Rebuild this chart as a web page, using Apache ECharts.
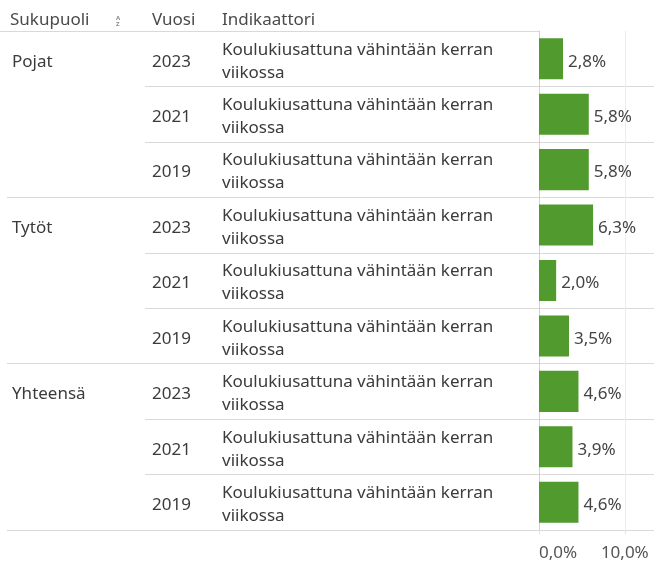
<!DOCTYPE html>
<html>
<head>
<meta charset="utf-8">
<script src="https://cdn.jsdelivr.net/npm/echarts@6/dist/echarts.min.js"></script>
<style>
  html, body { margin: 0; padding: 0; background: #fff; }
  #chart { width: 654px; height: 562px; }
</style>
</head>
<body>
<div id="chart"></div>
<script>
  // taulukon data
  const groups = ['Pojat', 'Tytöt', 'Yhteensä']
  const years = ['2023', '2021', '2019']
  const indicatorLines = ['Koulukiusattuna vähintään kerran', 'viikossa']
  const pojat = [2.8, 5.8, 5.8]
  const tytot = [6.3, 2.0, 3.5]
  const yhteensa = [4.6, 3.9, 4.6]
  const xTicks = [0, 10]

  const groupValues = [pojat, tytot, yhteensa]
  const rows = []
  groups.forEach((g, gi) => {
    years.forEach((y, yi) => {
      rows.push({ group: g, year: y, first: yi === 0, value: groupValues[gi][yi] })
    })
  })
  const rowKeys = rows.map((r, i) => 'r' + i)

  const font = '"Noto Sans", sans-serif'
  const fs = 17
  const textColor = '#3b3b3b'
  const lineColor = '#d9d9d9'
  const pct = v => v.toFixed(1).replace('.', ',') + '%'

  // tyhjä välirivi siirtää tekstiä hieman alaspäin
  const shift = h => ({ p: { height: h, fontSize: 1, lineHeight: h }, t: { fontSize: fs, fontFamily: font, color: textColor, lineHeight: 23 } })
  const withShift = s => '{p| }\n' + s.split('\n').map(l => '{t|' + l + '}').join('\n')

  const chart = echarts.init(document.getElementById('chart'))

  const baseY = {
    type: 'category',
    data: rowKeys,
    inverse: true,
    position: 'left',
    axisLine: { show: false },
    axisTick: { show: false },
    splitLine: { show: false }
  }

  const option = {
    animation: false,
    textStyle: { fontFamily: font },
    grid: { left: 539, right: 0, top: 31, bottom: 31, containLabel: false },
    xAxis: {
      type: 'value',
      min: xTicks[0],
      max: 13.4,
      interval: xTicks[1] - xTicks[0],
      axisLine: { show: false },
      axisTick: { show: true, length: 4, lineStyle: { color: '#e2e2e2' } },
      splitLine: { show: true, lineStyle: { color: '#ececec' } },
      axisLabel: {
        color: '#555',
        fontSize: fs,
        fontFamily: font,
        margin: 15,
        alignMinLabel: 'left',
        showMaxLabel: false,
        formatter: v => (xTicks.includes(v) ? pct(v) : '')
      }
    },
    yAxis: [
      {
        ...baseY,
        // vuosi + rivien erotinviivat
        axisLine: { show: true, lineStyle: { color: '#d0d0d0' } },
        axisTick: { show: true, length: 394, interval: 0, lineStyle: { color: lineColor } },
        splitLine: { show: true, interval: i => i !== 0, lineStyle: { color: lineColor } },
        axisLabel: {
          align: 'left', margin: 387, interval: 0,
          rich: shift(6),
          formatter: (v, i) => withShift(rows[i].year)
        }
      },
      {
        ...baseY,
        axisLabel: {
          align: 'left', margin: 317, interval: 0,
          rich: shift(5),
          formatter: () => withShift(indicatorLines.join('\n'))
        }
      },
      {
        ...baseY,
        // ryhmien erotinviivat
        axisTick: {
          show: true, length: 532,
          interval: i => i % 3 === 0,
          lineStyle: { color: lineColor }
        },
        axisLabel: {
          align: 'left', margin: 527, interval: 0,
          rich: shift(6),
          formatter: (v, i) => (rows[i].first ? withShift(rows[i].group) : '')
        }
      }
    ],
    graphic: [
      { type: 'line', shape: { x1: 0, y1: 31.5, x2: 538, y2: 31.5 }, style: { stroke: lineColor, lineWidth: 1 } },
      { type: 'text', left: 10, top: 12, style: { text: 'Sukupuoli', fill: '#4a4a4a', font: fs + 'px ' + font } },
      { type: 'text', left: 116, top: 15, style: { text: 'A\nZ', fill: '#8a8a8a', font: 'bold 6px ' + font, lineHeight: 6 } },
      { type: 'text', left: 152, top: 12, style: { text: 'Vuosi', fill: '#4a4a4a', font: fs + 'px ' + font } },
      { type: 'text', left: 222, top: 12, style: { text: 'Indikaattori', fill: '#4a4a4a', font: fs + 'px ' + font } }
    ],
    series: [
      {
        type: 'bar',
        data: rows.map(r => r.value),
        barCategoryGap: '26%',
        itemStyle: { color: '#509a2e' },
        label: {
          show: true,
          position: 'right',
          distance: 5,
          color: '#444',
          fontSize: fs,
          fontFamily: font,
          offset: [0, 3],
          formatter: p => pct(p.value)
        }
      }
    ]
  }

  chart.setOption(option)
</script>
</body>
</html>
